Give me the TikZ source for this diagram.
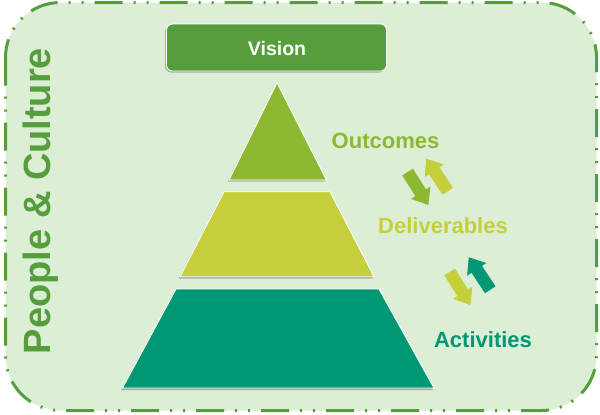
\documentclass[tikz,border=0pt]{standalone}
\usepackage{fontspec}
\setmainfont{Liberation Sans}
\definecolor{bgreen}{HTML}{DCEFD6}
\definecolor{vgreen}{HTML}{569E3B}
\definecolor{ogreen}{HTML}{8CB832}
\definecolor{dyellow}{HTML}{C4CF3B}
\definecolor{ateal}{HTML}{009874}
\tikzset{
  frame/.style={draw=vgreen, line width=3bp, fill=bgreen, rounded corners=55bp,
    dash pattern=on 28bp off 11bp on 2bp off 11bp on 2bp off 11bp},
  layer/.style={draw=white, line width=0.9bp},
  shade/.style={fill=black, opacity=0.25},
  lbl/.style={font=\bfseries\fontsize{22bp}{26bp}\selectfont, inner sep=0pt, anchor=base},
  barrow/.pic={\fill[pic actions] (-19.5,-6.3) -- (5,-6.3) -- (5,-11.5) -- (19.5,0)
     -- (5,11.5) -- (5,6.3) -- (-19.5,6.3) -- cycle;}
}
\begin{document}
\begin{tikzpicture}[x=1bp,y=-1bp]
\useasboundingbox (0,0) rectangle (600,414);
\fill[white] (0,0) rectangle (600,414);
% frame
\draw[frame] (5.5,2.5) rectangle (596.5,410.5);
% people & culture
\node[lbl, rotate=90, text=vgreen, font=\bfseries\fontsize{38bp}{44bp}\selectfont] (pc) at (50,201) {People \& Culture};
% vision box
\fill[shade, rounded corners=6bp] (165,25.5) rectangle (385,72.5);
\node[draw=white, line width=0.9bp, fill=vgreen, rounded corners=6bp,
      minimum width=220bp, minimum height=47bp, inner sep=0pt] (vbox) at (276.5,47.5) {};
\node[lbl, text=white, font=\bfseries\fontsize{19.5bp}{23bp}\selectfont] (vision) at (277,55) {Vision};
% pyramid shadows
\fill[shade] (276,84.5) -- (325,181.5) -- (227.5,181.5) -- cycle;
\fill[shade] (223,193) -- (329,193) -- (373,278.5) -- (178.5,278.5) -- cycle;
\fill[shade] (175,290.5) -- (378,290.5) -- (433,390) -- (121,390) -- cycle;
% pyramid layers
\draw[layer, fill=ogreen] (277,82.7) -- (326.5,180) -- (229,180) -- cycle;
\draw[layer, fill=dyellow] (224,191.7) -- (330,191.7) -- (374,276.7) -- (180,276.7) -- cycle;
\draw[layer, fill=ateal] (176,289) -- (379,289) -- (434,388) -- (122.5,388) -- cycle;
% labels
\node[lbl, text=ogreen] (out) at (385.5,148) {Outcomes};
\node[lbl, text=dyellow] (del) at (443,233) {Deliverables};
\node[lbl, text=ateal] (act) at (483,347) {Activities};
% arrows
\pic[fill=ogreen, rotate=-57.8] at (418,188.5) {barrow};
\pic[fill=dyellow, rotate=123.5] at (437,175) {barrow};
\pic[fill=dyellow, rotate=-57.8] at (460,288.5) {barrow};
\pic[fill=ateal, rotate=123.5] at (479.5,273.5) {barrow};
\end{tikzpicture}
\end{document}
